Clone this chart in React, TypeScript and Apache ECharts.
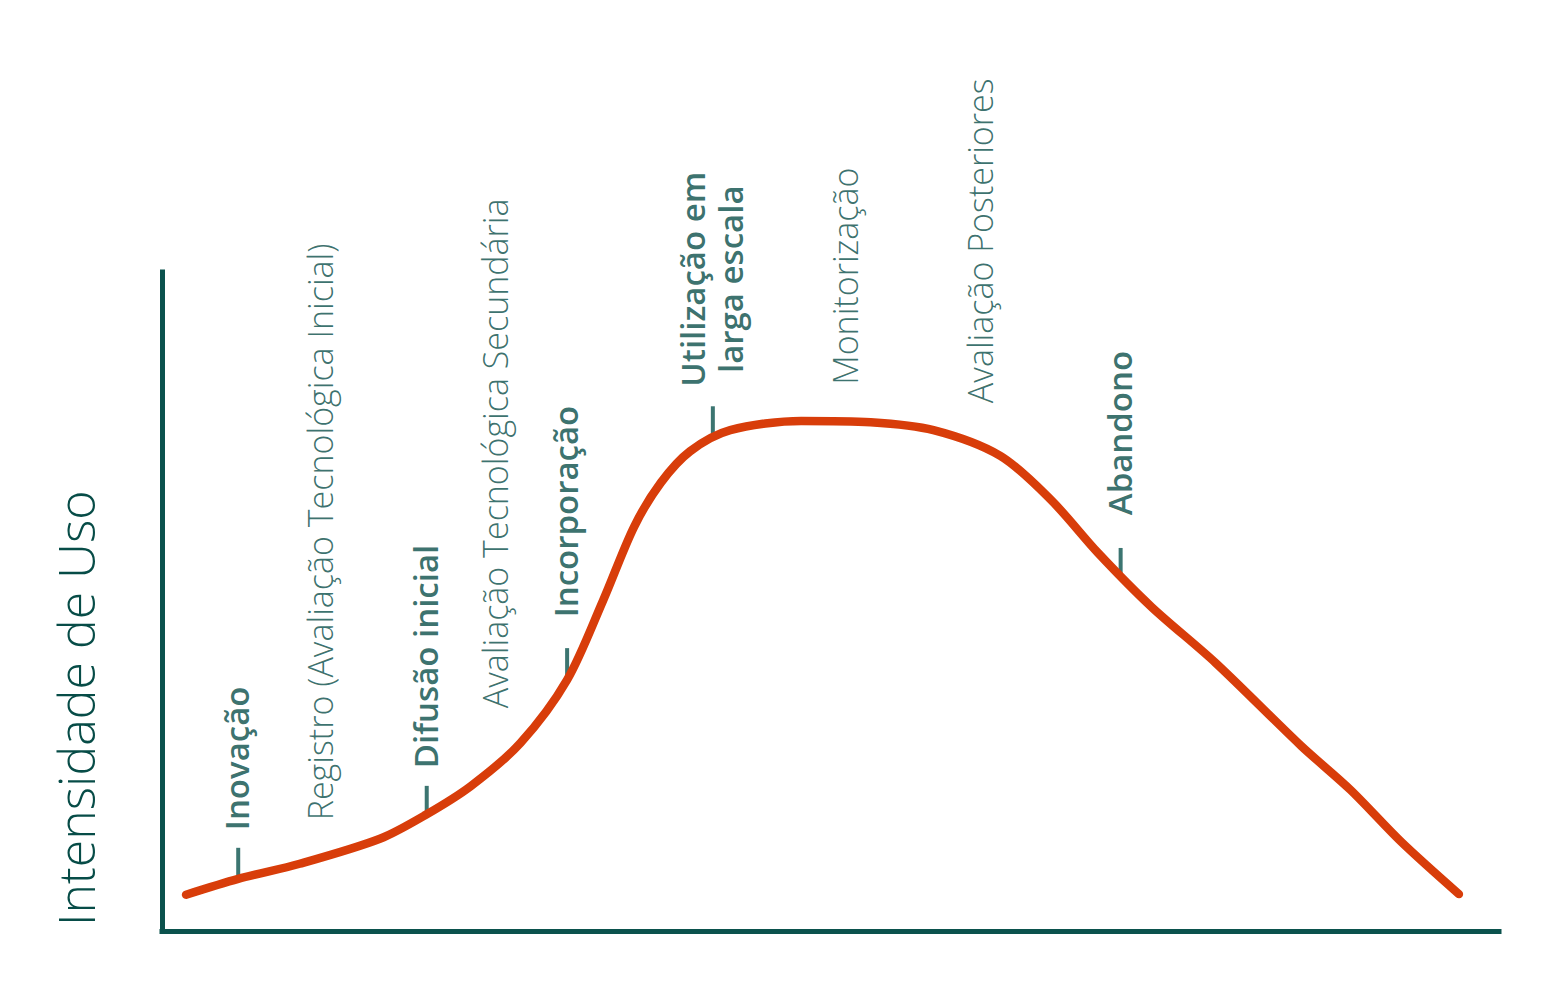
import React, { useEffect, useRef } from "react";
import * as echarts from "echarts";

// Curve: time (0-100) vs usage intensity (0-100)
const curveX = [1.8, 5.7, 10.3, 16.3, 19.7, 23.1, 26.8, 30.3, 33.0, 35.3, 37.3, 39.5, 42.5, 47.8, 53.0, 57.7, 62.7, 66.5, 70.0, 74.0, 78.8, 85.2, 88.9, 92.7, 97.0];
const curveY = [5.5, 7.9, 10.2, 14.0, 17.6, 22.0, 28.5, 38.1, 50.2, 61.3, 68.0, 72.8, 76.0, 77.4, 77.2, 76.0, 72.1, 65.4, 57.4, 49.2, 40.7, 28.1, 21.4, 13.5, 5.6];

// Milestones marked on the curve
const milestoneNames = ["Inovação", "Difusão inicial", "Incorporação", "Utilização em\nlarga escala", "Abandono"];
const milestoneX = [5.7, 19.8, 30.3, 41.2, 71.7];
const milestoneTickY = [10.5, 19.9, 40.8, 77.5, 56.0];
const milestoneLabelY = [15.3, 24.7, 47.6, 98.9, 63.1];
const milestoneLabelX = [5.6, 19.7, 30.2, 41.1, 71.6];

// Process phases (light labels)
const phaseNames = ["Registro (Avaliação Tecnológica Inicial)", "Avaliação Tecnológica Secundária", "Monitorização", "Avaliação Posteriores"];
const phaseX = [11.8, 24.9, 51.1, 61.2];
const phaseY = [16.8, 33.8, 82.9, 80.1];

const yTitle = "Intensidade de Uso";

const TEAL = "#0b524d";
const TEXT = "#074c47";
const ORANGE = "#d83d0a";
const FONT = "'Open Sans', sans-serif";

export default function App() {
  const ref = useRef<HTMLDivElement>(null);
  useEffect(() => {
    if (!ref.current) return;
    const chart = echarts.init(ref.current, null, { renderer: "svg" });
    const option: any = {
      animation: false,
      backgroundColor: "#ffffff",
      grid: { left: 162, right: 45, top: 272, bottom: 59, containLabel: false },
      xAxis: {
        type: "value",
        min: 0,
        max: 100,
        axisLine: { show: true, lineStyle: { color: TEAL, width: 5, cap: "square" } },
        axisTick: { show: false },
        axisLabel: { show: false },
        splitLine: { show: false },
      },
      yAxis: {
        type: "value",
        min: 0,
        max: 100,
        axisLine: { show: true, lineStyle: { color: TEAL, width: 5, cap: "square" } },
        axisTick: { show: false },
        axisLabel: { show: false },
        splitLine: { show: false },
      },
      graphic: [
        {
          type: "text",
          x: 76,
          y: 926,
          rotation: Math.PI / 2,
          style: {
            text: yTitle,
            fill: TEXT,
            font: `300 50px ${FONT}`,
            align: "left",
            verticalAlign: "middle",
          },
        },
      ],
      series: [
        {
          type: "scatter",
          z: 1,
          symbol: "rect",
          symbolSize: [4, 28],
          itemStyle: { color: TEAL },
          data: milestoneX.map((x, i) => [x, milestoneTickY[i]]),
          silent: true,
        },
        {
          type: "line",
          z: 3,
          smooth: 0.3,
          showSymbol: false,
          symbol: "none",
          lineStyle: { color: ORANGE, width: 8.5, cap: "round", join: "round" },
          data: curveX.map((x, i) => [x, curveY[i]]),
          silent: true,
        },
        {
          type: "scatter",
          z: 4,
          symbolSize: 0,
          data: milestoneNames.map((n, i) => ({ value: [milestoneLabelX[i], milestoneLabelY[i]], name: n })),
          label: {
            show: true,
            position: [0, 0],
            rotate: 90,
            formatter: (p: any) => p.name,
            color: TEXT,
            fontFamily: FONT,
            fontWeight: 600,
            fontSize: 33,
            lineHeight: 38,
            align: "left",
            verticalAlign: "middle",
          },
          labelLayout: (p: any) => (p.dataIndex === 3 ? { align: "center" } : {}),
          silent: true,
        },
        {
          type: "scatter",
          z: 4,
          symbolSize: 0,
          data: phaseNames.map((n, i) => ({ value: [phaseX[i], phaseY[i]], name: n })),
          label: {
            show: true,
            position: [0, 0],
            rotate: 90,
            formatter: (p: any) => p.name,
            color: TEXT,
            fontFamily: FONT,
            fontWeight: 300,
            fontSize: 34,
            align: "left",
            verticalAlign: "middle",
          },
          silent: true,
        },
      ],
    };
    chart.setOption(option);
    return () => chart.dispose();
  }, []);
  return <div ref={ref} style={{ position: "fixed", left: 0, top: 0, width: 1544, height: 990, background: "#fff" }} />;
}
